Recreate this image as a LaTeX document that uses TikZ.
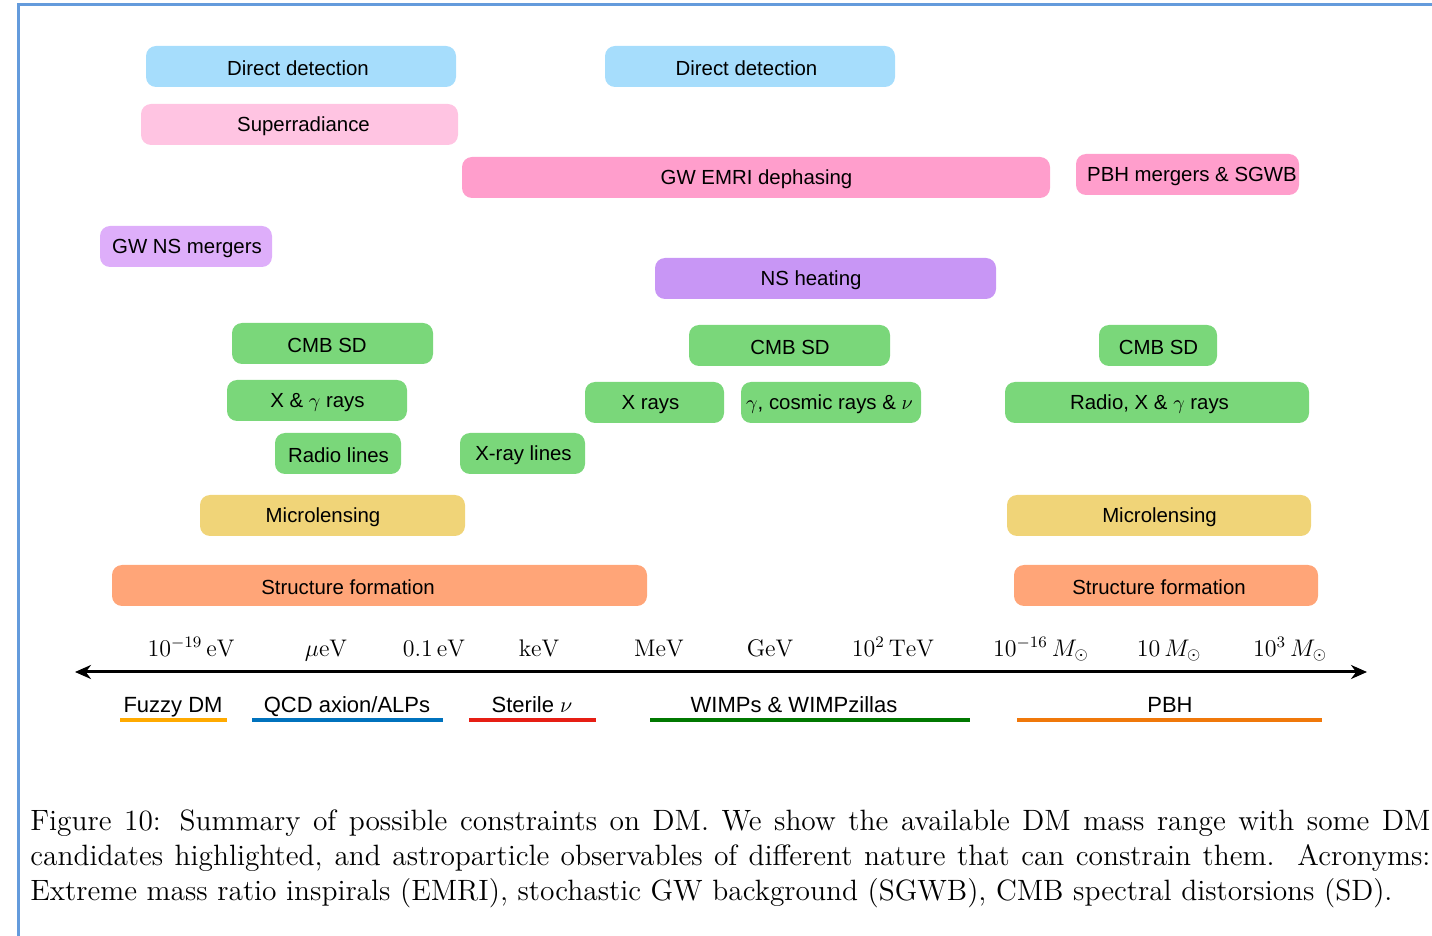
\documentclass[tikz,border=0pt]{standalone}
\usepackage{fontspec}
\usepackage{tikz}
\usetikzlibrary{arrows.meta,positioning}
\newfontfamily\helv{Liberation Sans}

\definecolor{ddblue}{RGB}{166,221,252}
\definecolor{srpink}{RGB}{255,196,226}
\definecolor{gwpink}{RGB}{255,158,204}
\definecolor{nslav}{RGB}{222,174,250}
\definecolor{nspurple}{RGB}{200,150,245}
\definecolor{obsgreen}{RGB}{122,215,122}
\definecolor{mlyellow}{RGB}{240,212,120}
\definecolor{sforange}{RGB}{255,165,120}
\definecolor{frameblue}{RGB}{100,155,220}
\definecolor{fuzzycol}{RGB}{255,170,0}
\definecolor{axioncol}{RGB}{0,114,189}
\definecolor{sterilecol}{RGB}{230,30,20}
\definecolor{wimpcol}{RGB}{0,120,0}
\definecolor{pbhcol}{RGB}{240,120,10}

\tikzset{
  obs/.style={rounded corners=5pt, minimum height=20.5pt, inner sep=0pt},
  obstext/.style={inner sep=0pt, yshift=-1pt, font=\helv\fontsize{10.2}{12}\selectfont},
  masslabel/.style={anchor=base, inner sep=0pt, font=\fontsize{12}{14}\selectfont},
  candlabel/.style={anchor=base, inner sep=0pt, font=\helv\fontsize{11}{13}\selectfont},
  candline/.style={line width=2pt}
}

\begin{document}
\begin{tikzpicture}[x=0.5pt,y=-0.5pt]
  \useasboundingbox (0,0) rectangle (1432,936);
  % frame
  \draw[frameblue, line width=1.5pt] (18,936) -- (18,5) -- (1432,5);

  % observables: boxes
  \node[obs, fill=ddblue,   minimum width=155pt]   (dd1)  at (301,66.5)     {};
  \node[obs, fill=ddblue,   minimum width=145pt]   (dd2)  at (750,66.5)     {};
  \node[obs, fill=srpink,   minimum width=158.5pt] (sr)   at (299.5,124.5)  {};
  \node[obs, fill=gwpink,   minimum width=294pt]   (emri) at (756,177.5)    {};
  \node[obs, fill=gwpink,   minimum width=111.5pt] (pbhm) at (1187.5,174.5) {};
  \node[obs, fill=nslav,    minimum width=86pt]    (gwns) at (186,246.5)    {};
  \node[obs, fill=nspurple, minimum width=170.5pt] (nsh)  at (825.5,278.5)  {};
  \node[obs, fill=obsgreen, minimum width=100.5pt] (cmbl) at (332.5,343.5)  {};
  \node[obs, fill=obsgreen, minimum width=100.5pt] (cmbm) at (789.5,345.5)  {};
  \node[obs, fill=obsgreen, minimum width=59pt]    (cmbr) at (1158,345.5)   {};
  \node[obs, fill=obsgreen, minimum width=90pt]    (xgam) at (317,400.5)    {};
  \node[obs, fill=obsgreen, minimum width=69.5pt]  (xray) at (654.5,402.5)  {};
  \node[obs, fill=obsgreen, minimum width=90pt]    (gcr)  at (831,402.5)    {};
  \node[obs, fill=obsgreen, minimum width=152pt]   (rxg)  at (1157,402.5)   {};
  \node[obs, fill=obsgreen, minimum width=63pt]    (rlin) at (338,453.5)    {};
  \node[obs, fill=obsgreen, minimum width=62.5pt]  (xlin) at (522.5,453.5)  {};
  \node[obs, fill=mlyellow, minimum width=132.5pt] (mll)  at (332.5,515.5)  {};
  \node[obs, fill=mlyellow, minimum width=152pt]   (mlr)  at (1159,515.5)   {};
  \node[obs, fill=sforange, minimum width=267.5pt] (sfl)  at (379.5,585.5)  {};
  \node[obs, fill=sforange, minimum width=152pt]   (sfr)  at (1166,585.5)   {};

  % observables: labels
  \node[obstext] (dd1-t)  at (298,66.5)    {Direct detection};
  \node[obstext] (dd2-t)  at (746.5,66.5)  {Direct detection};
  \node[obstext] (sr-t)   at (303.5,124.5) {Superradiance};
  \node[obstext] (emri-t) at (756.5,177.5) {GW EMRI dephasing};
  \node[obstext] (pbhm-t) at (1192,174.5)  {PBH mergers \& SGWB};
  \node[obstext] (gwns-t) at (187,246.5)   {GW NS mergers};
  \node[obstext] (nsh-t)  at (811,278.5)   {NS heating};
  \node[obstext] (cmbl-t) at (327,343.5)   {CMB SD};
  \node[obstext] (cmbm-t) at (790,345.5)   {CMB SD};
  \node[obstext] (cmbr-t) at (1158.5,345.5){CMB SD};
  \node[obstext] (xgam-t) at (317.5,400.5) {X \& $\gamma$ rays};
  \node[obstext] (xray-t) at (650.5,402.5) {X rays};
  \node[obstext] (gcr-t)  at (829.5,402.5) {$\gamma$, cosmic rays \& $\nu$};
  \node[obstext] (rxg-t)  at (1149.5,402.5){Radio, X \& $\gamma$ rays};
  \node[obstext] (rlin-t) at (338.5,453.5) {Radio lines};
  \node[obstext] (xlin-t) at (523.5,453.5) {X-ray lines};
  \node[obstext] (mll-t)  at (323,515.5)   {Microlensing};
  \node[obstext] (mlr-t)  at (1159.5,515.5){Microlensing};
  \node[obstext] (sfl-t)  at (348,585.5)   {Structure formation};
  \node[obstext] (sfr-t)  at (1159,585.5)  {Structure formation};

  % mass axis
  \coordinate (axl) at (75,672);
  \coordinate (axr) at (1367,672);
  \draw[{Stealth[length=8pt,width=7pt]}-{Stealth[length=8pt,width=7pt]}, line width=1.5pt] (axl) -- (axr);

  \node[masslabel] (m1)  at (191,656)  {$10^{-19}\,\mathrm{eV}$};
  \node[masslabel] (m2)  at (326,656)  {$\mu\mathrm{eV}$};
  \node[masslabel] (m3)  at (434,656)  {$0.1\,\mathrm{eV}$};
  \node[masslabel] (m4)  at (539,656)  {$\mathrm{keV}$};
  \node[masslabel] (m5)  at (659,656)  {$\mathrm{MeV}$};
  \node[masslabel] (m6)  at (770,656)  {$\mathrm{GeV}$};
  \node[masslabel] (m7)  at (893,656)  {$10^2\,\mathrm{TeV}$};
  \node[masslabel] (m8)  at (1041,656) {$10^{-16}\,M_\odot$};
  \node[masslabel] (m9)  at (1169,656) {$10\,M_\odot$};
  \node[masslabel] (m10) at (1290,656) {$10^3\,M_\odot$};

  % DM candidates
  \node[candlabel] (fuzzy)   at (173,712)  {Fuzzy DM};
  \node[candlabel] (axion)   at (347,712)  {QCD axion/ALPs};
  \node[candlabel] (sterile) at (532,712)  {Sterile $\nu$};
  \node[candlabel] (wimp)    at (794,712)  {WIMPs \& WIMPzillas};
  \node[candlabel] (pbh)     at (1170,712) {PBH};
  \draw[candline, fuzzycol]   (120,720) -- (227,720);
  \draw[candline, axioncol]   (252,720) -- (443,720);
  \draw[candline, sterilecol] (469,720) -- (596,720);
  \draw[candline, wimpcol]    (650,720) -- (970,720);
  \draw[candline, pbhcol]     (1017,720) -- (1322,720);

  % caption
  \node[anchor=north west, inner sep=0pt, text width=700pt, align=justify,
        font=\fontsize{14.7}{17.5}\selectfont] (caption) at (30,809)
    {Figure 10: Summary of possible constraints on DM. We show the available DM mass range with some DM\linebreak
     candidates highlighted, and astroparticle observables of different nature that can constrain them.\ \ Acronyms:\linebreak
     Extreme mass ratio inspirals (EMRI), stochastic GW background (SGWB), CMB spectral distorsions (SD).};
\end{tikzpicture}
\end{document}
